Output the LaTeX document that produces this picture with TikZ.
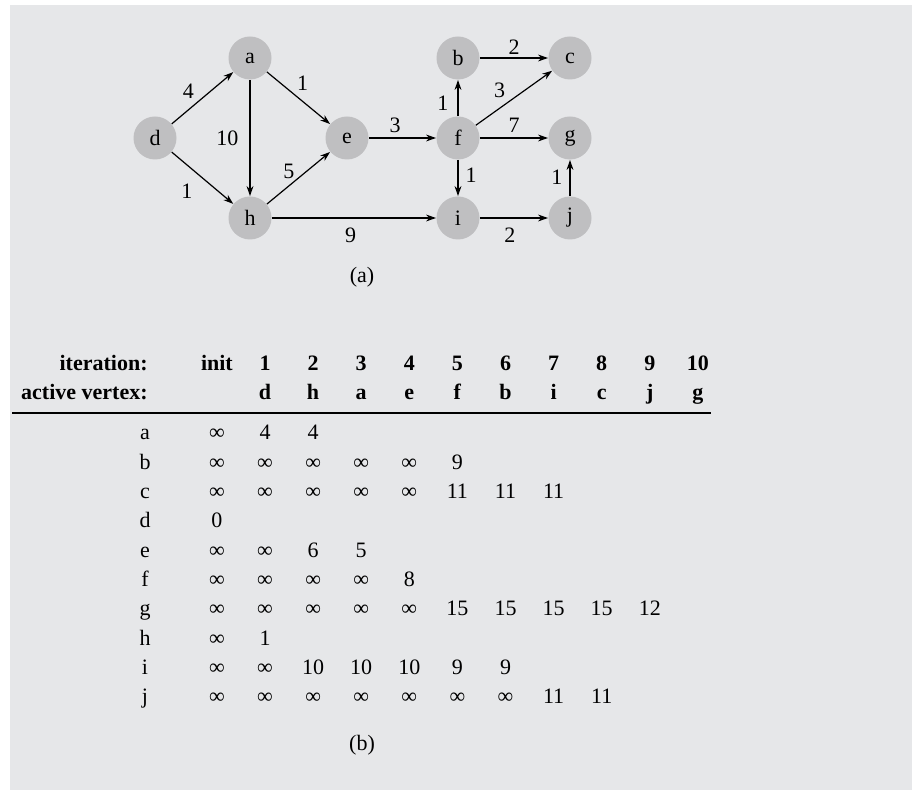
\documentclass[tikz,border=0pt]{standalone}
\usepackage{fontspec}
\setmainfont{Liberation Serif}
\usetikzlibrary{arrows.meta}
\definecolor{panelgray}{RGB}{230,231,233}
\definecolor{vertexgray}{RGB}{191,191,193}
\begin{document}
\begin{tikzpicture}[x=0.5pt,y=-0.5pt,>={Stealth[length=5pt,width=3.4pt]},
  every node/.style={font=\fontsize{11}{13}\selectfont},
  vtx/.style={circle,fill=vertexgray,minimum size=21.5pt,inner sep=0pt},
  wt/.style={inner sep=1.5pt},
  edge/.style={->,line width=0.6pt},
  cell/.style={anchor=base,inner sep=0pt},
  hd/.style={anchor=base,inner sep=0pt,font=\fontsize{11}{13}\selectfont\bfseries}]
\useasboundingbox (0,0) rectangle (912,790);
\fill[panelgray] (10,5) rectangle (912,790);
% graph (a)
\node[vtx] (d) at (155,138) {d};
\node[vtx] (a) at (250,58) {a};
\node[vtx] (h) at (250,218) {h};
\node[vtx] (e) at (347,138) {e};
\node[vtx] (f) at (458,138) {f};
\node[vtx] (b) at (458,58) {b};
\node[vtx] (i) at (458,218) {i};
\node[vtx] (c) at (570,58) {c};
\node[vtx] (g) at (570,138) {g};
\node[vtx] (j) at (570,218) {j};
\draw[edge] (d) -- node[wt,pos=0.42,above left] {4} (a);
\draw[edge] (d) -- node[wt,pos=0.46,below left=2pt] {1} (h);
\draw[edge] (a) -- node[wt,pos=0.42,above right] {1} (e);
\draw[edge] (a) -- node[wt,pos=0.5,left=4pt] {10} (h);
\draw[edge] (h) -- node[wt,pos=0.46,above left=-1pt] {5} (e);
\draw[edge] (e) -- node[wt,pos=0.39,above=1pt] {3} (f);
\draw[edge] (h) -- node[wt,pos=0.48,below=3pt] {9} (i);
\draw[edge] (f) -- node[wt,pos=0.36,left=3pt] {1} (b);
\draw[edge] (b) -- node[wt,pos=0.5,above=0pt] {2} (c);
\draw[edge] (f) -- node[wt,pos=0.43,above left] {3} (c);
\draw[edge] (f) -- node[wt,pos=0.5,above=1pt] {7} (g);
\draw[edge] (f) -- node[wt,pos=0.42,right=2pt] {1} (i);
\draw[edge] (i) -- node[wt,pos=0.44,below=3pt] {2} (j);
\draw[edge] (j) -- node[wt,pos=0.53,left=2pt] {1} (g);
\node (capa) at (362,277) {(a)};
% table (b)
\node[hd,anchor=base east] (iter) at (148,371) {iteration:};
\node[hd,anchor=base east] (actv) at (148,400) {active vertex:};
\foreach \h [count=\k from 0] in {init,1,2,3,4,5,6,7,8,9,10}
  \node[hd] (hd\k) at (216.9+48.1*\k,371) {\h};
\foreach \w [count=\k] in {d,h,a,e,f,b,i,c,j,g}
  \node[hd] (av\k) at (216.9+48.1*\k,400) {\w};
\draw[line width=1.3pt] (12,413) -- (711,413);
\foreach \v/\vals [count=\r from 0] in {a/{∞,4,4},b/{∞,∞,∞,∞,∞,9},
    c/{∞,∞,∞,∞,∞,11,11,11},d/{0},e/{∞,∞,6,5},f/{∞,∞,∞,∞,8},
    g/{∞,∞,∞,∞,∞,15,15,15,15,12},h/{∞,1},i/{∞,∞,10,10,10,9,9},
    j/{∞,∞,∞,∞,∞,∞,∞,11,11}} {
  \node[cell] (row\v) at (145,440+29.3*\r) {\v};
  \foreach \t [count=\k from 0] in \vals
    \node[cell] (cell\v\k) at (216.9+48.1*\k,440+29.3*\r) {\t};
}
\node (capb) at (362,745) {(b)};
\end{tikzpicture}
\end{document}
